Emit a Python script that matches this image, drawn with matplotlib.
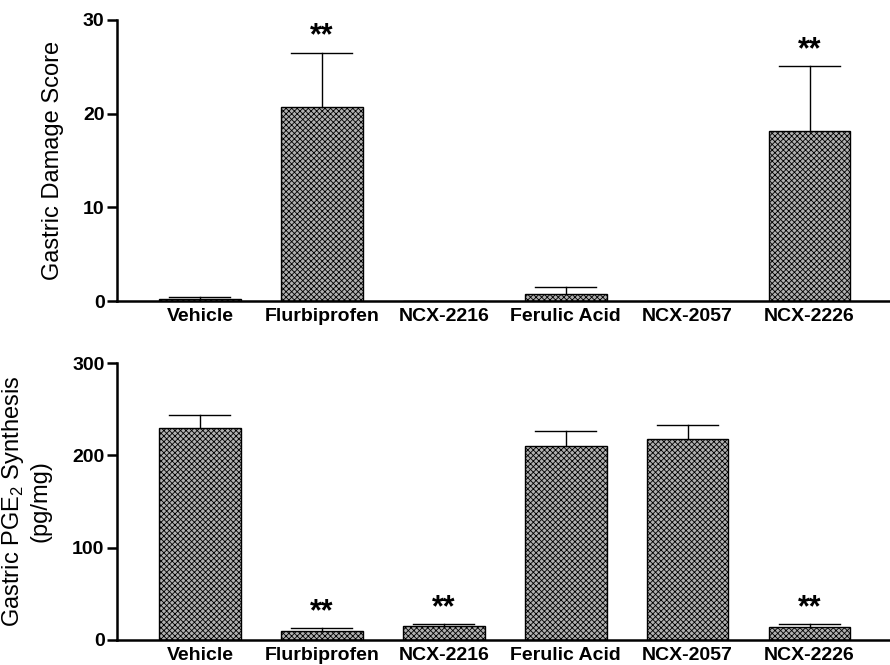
import matplotlib
matplotlib.use("Agg")
import matplotlib.pyplot as plt
import numpy as np

plt.rcParams['font.family'] = ['Liberation Sans', 'DejaVu Sans']
plt.rcParams['mathtext.fontset'] = 'custom'
plt.rcParams['mathtext.rm'] = 'Liberation Sans'
plt.rcParams['hatch.color'] = '#505050'
plt.rcParams['hatch.linewidth'] = 0.6

groups = ["Vehicle", "Flurbiprofen", "NCX-2216", "Ferulic Acid", "NCX-2057", "NCX-2226"]

damage_mean = [0.2, 20.7, 0.0, 0.8, 0.0, 18.2]
damage_err = [0.3, 5.8, 0.0, 0.7, 0.0, 6.9]
damage_sig = [False, True, False, False, False, True]

pge2_mean = [230, 10, 15, 210, 218, 14]
pge2_err = [14, 3, 2, 16, 15, 3]
pge2_sig = [False, True, True, False, False, True]


def bar_panel(ax, mean, err, sig, ymax, yticks, ylabel):
    x = np.arange(len(groups))
    ax.bar(x, mean, width=0.67, facecolor='#b0b0b0', edgecolor='black',
           linewidth=1.0, hatch='xxxxxx', zorder=2)
    for xi, m, e in zip(x, mean, err):
        if e <= 0:
            continue
        ax.plot([xi, xi], [m, m + e], color='black', lw=1.0, zorder=3)
        ax.plot([xi - 0.25, xi + 0.25], [m + e, m + e], color='black', lw=1.0, zorder=3)
    for xi, m, e, s in zip(x, mean, err, sig):
        if s:
            ax.text(xi, m + e + ymax * 0.004, "**", ha='center', va='bottom',
                    fontsize=22, fontweight='bold')
    ax.set_xlim(-0.68, 5.66)
    ax.set_ylim(0, ymax)
    ax.set_yticks(yticks)
    ax.set_yticklabels([str(t) for t in yticks], fontweight='bold', fontsize=14)
    ax.set_xticks(x)
    ax.set_xticklabels(groups, fontweight='bold', fontsize=14)
    ax.tick_params(axis='x', length=0, pad=5)
    ax.tick_params(axis='y', width=1.8, length=7, pad=2)
    for side in ('top', 'right'):
        ax.spines[side].set_visible(False)
    for side in ('left', 'bottom'):
        ax.spines[side].set_linewidth(1.8)
    ax.set_ylabel(ylabel, fontsize=17)


fig = plt.figure(figsize=(8.9, 6.65), dpi=100)
ax1 = fig.add_axes([0.1315, 0.547, 0.8685, 0.423])
ax2 = fig.add_axes([0.1315, 0.0376, 0.8685, 0.4164])

bar_panel(ax1, damage_mean, damage_err, damage_sig, 30, [0, 10, 20, 30],
          "Gastric Damage Score")
bar_panel(ax2, pge2_mean, pge2_err, pge2_sig, 300, [0, 100, 200, 300],
          "Gastric PGE$_2$ Synthesis\n(pg/mg)")
ax1.yaxis.set_label_coords(-0.068, 0.5)
ax2.yaxis.set_label_coords(-0.085, 0.5)

fig.savefig("out.png", dpi=100)
